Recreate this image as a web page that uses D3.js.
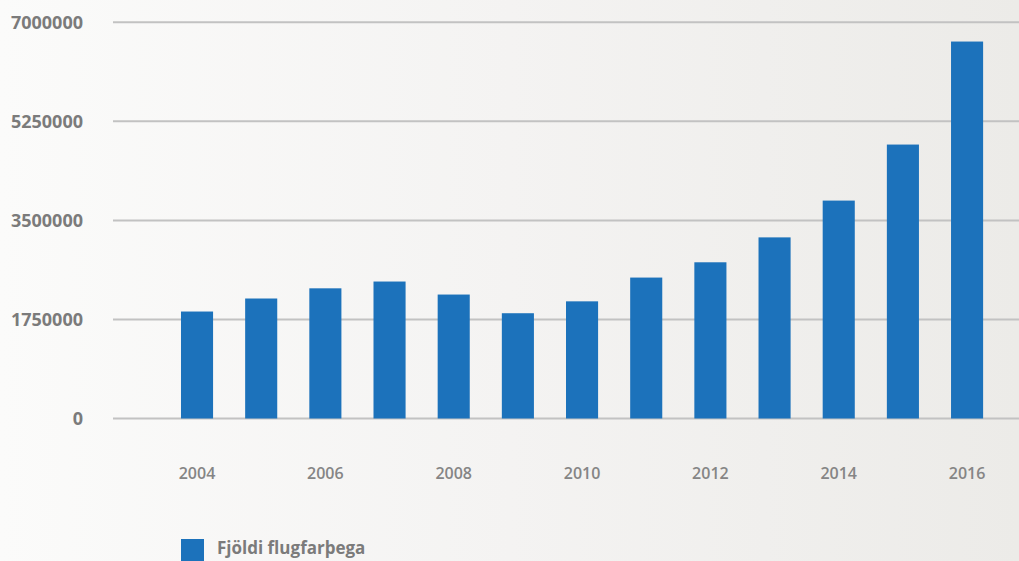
<!DOCTYPE html>
<html><head><meta charset="utf-8">
<script src="https://cdn.jsdelivr.net/npm/d3@7"></script>
<style>
html,body{margin:0;padding:0;overflow:hidden;}
svg{display:block;}
</style></head>
<body>
<svg id="chart" width="1019" height="561"></svg>
<script>
const years = ["2004","2005","2006","2007","2008","2009","2010","2011","2012","2013","2014","2015","2016"];
const passengers = [1890000,2120000,2300000,2420000,2190000,1860000,2070000,2490000,2760000,3200000,3850000,4840000,6660000];
const yTicks = [0,1750000,3500000,5250000,7000000];
const xLabels = ["2004","2006","2008","2010","2012","2014","2016"];
const seriesName = "Fjöldi flugfarþega";

const svg = d3.select("#chart");
const W = 1019, H = 561;

const defs = svg.append("defs");
const grad = defs.append("linearGradient").attr("id","bg").attr("x1","0").attr("x2","1").attr("y1","0").attr("y2","0");
grad.append("stop").attr("offset","0").attr("stop-color","#fbfbfa");
grad.append("stop").attr("offset","0.5").attr("stop-color","#f4f3f2");
grad.append("stop").attr("offset","1").attr("stop-color","#ecebe8");
svg.append("rect").attr("width",W).attr("height",H).attr("fill","url(#bg)");

const y = d3.scaleLinear().domain([0,7000000]).range([418.5,22.3]);
const x = d3.scaleBand().domain(years).range([148.9,1015.2]).paddingInner(0.5).paddingOuter(0.5);

// gridlines
svg.append("g").selectAll("line").data(yTicks).join("line")
  .attr("x1",113).attr("x2",W)
  .attr("y1",d=>y(d)).attr("y2",d=>y(d))
  .attr("stroke","#c2c2c2").attr("stroke-width",2);

// y labels
svg.append("g").selectAll("text").data(yTicks).join("text")
  .attr("x",83).attr("y",d=>y(d)).attr("dy","0.36em")
  .attr("text-anchor","end")
  .attr("font-family","'Open Sans', sans-serif").attr("font-weight",700).attr("font-size",18)
  .attr("fill","#7b7b7b")
  .text(d=>d);

// bars
svg.append("g").selectAll("rect").data(years).join("rect")
  .attr("x",d=>x(d)).attr("width",x.bandwidth())
  .attr("y",(d,i)=>y(passengers[i])).attr("height",(d,i)=>y(0)-y(passengers[i]))
  .attr("fill","#1c72bb");

// x labels
svg.append("g").selectAll("text").data(xLabels).join("text")
  .attr("x",d=>x(d)+x.bandwidth()/2).attr("y",479)
  .attr("text-anchor","middle")
  .attr("font-family","'Open Sans', sans-serif").attr("font-weight",600).attr("font-size",16)
  .attr("fill","#858585")
  .text(d=>d);

// legend
svg.append("rect").attr("x",181).attr("y",539).attr("width",23).attr("height",23).attr("fill","#1c72bb");
svg.append("text").attr("x",217).attr("y",554)
  .attr("font-family","'Open Sans', sans-serif").attr("font-weight",700).attr("font-size",17)
  .attr("fill","#7b7b7b")
  .text(seriesName);
</script>
</body></html>
